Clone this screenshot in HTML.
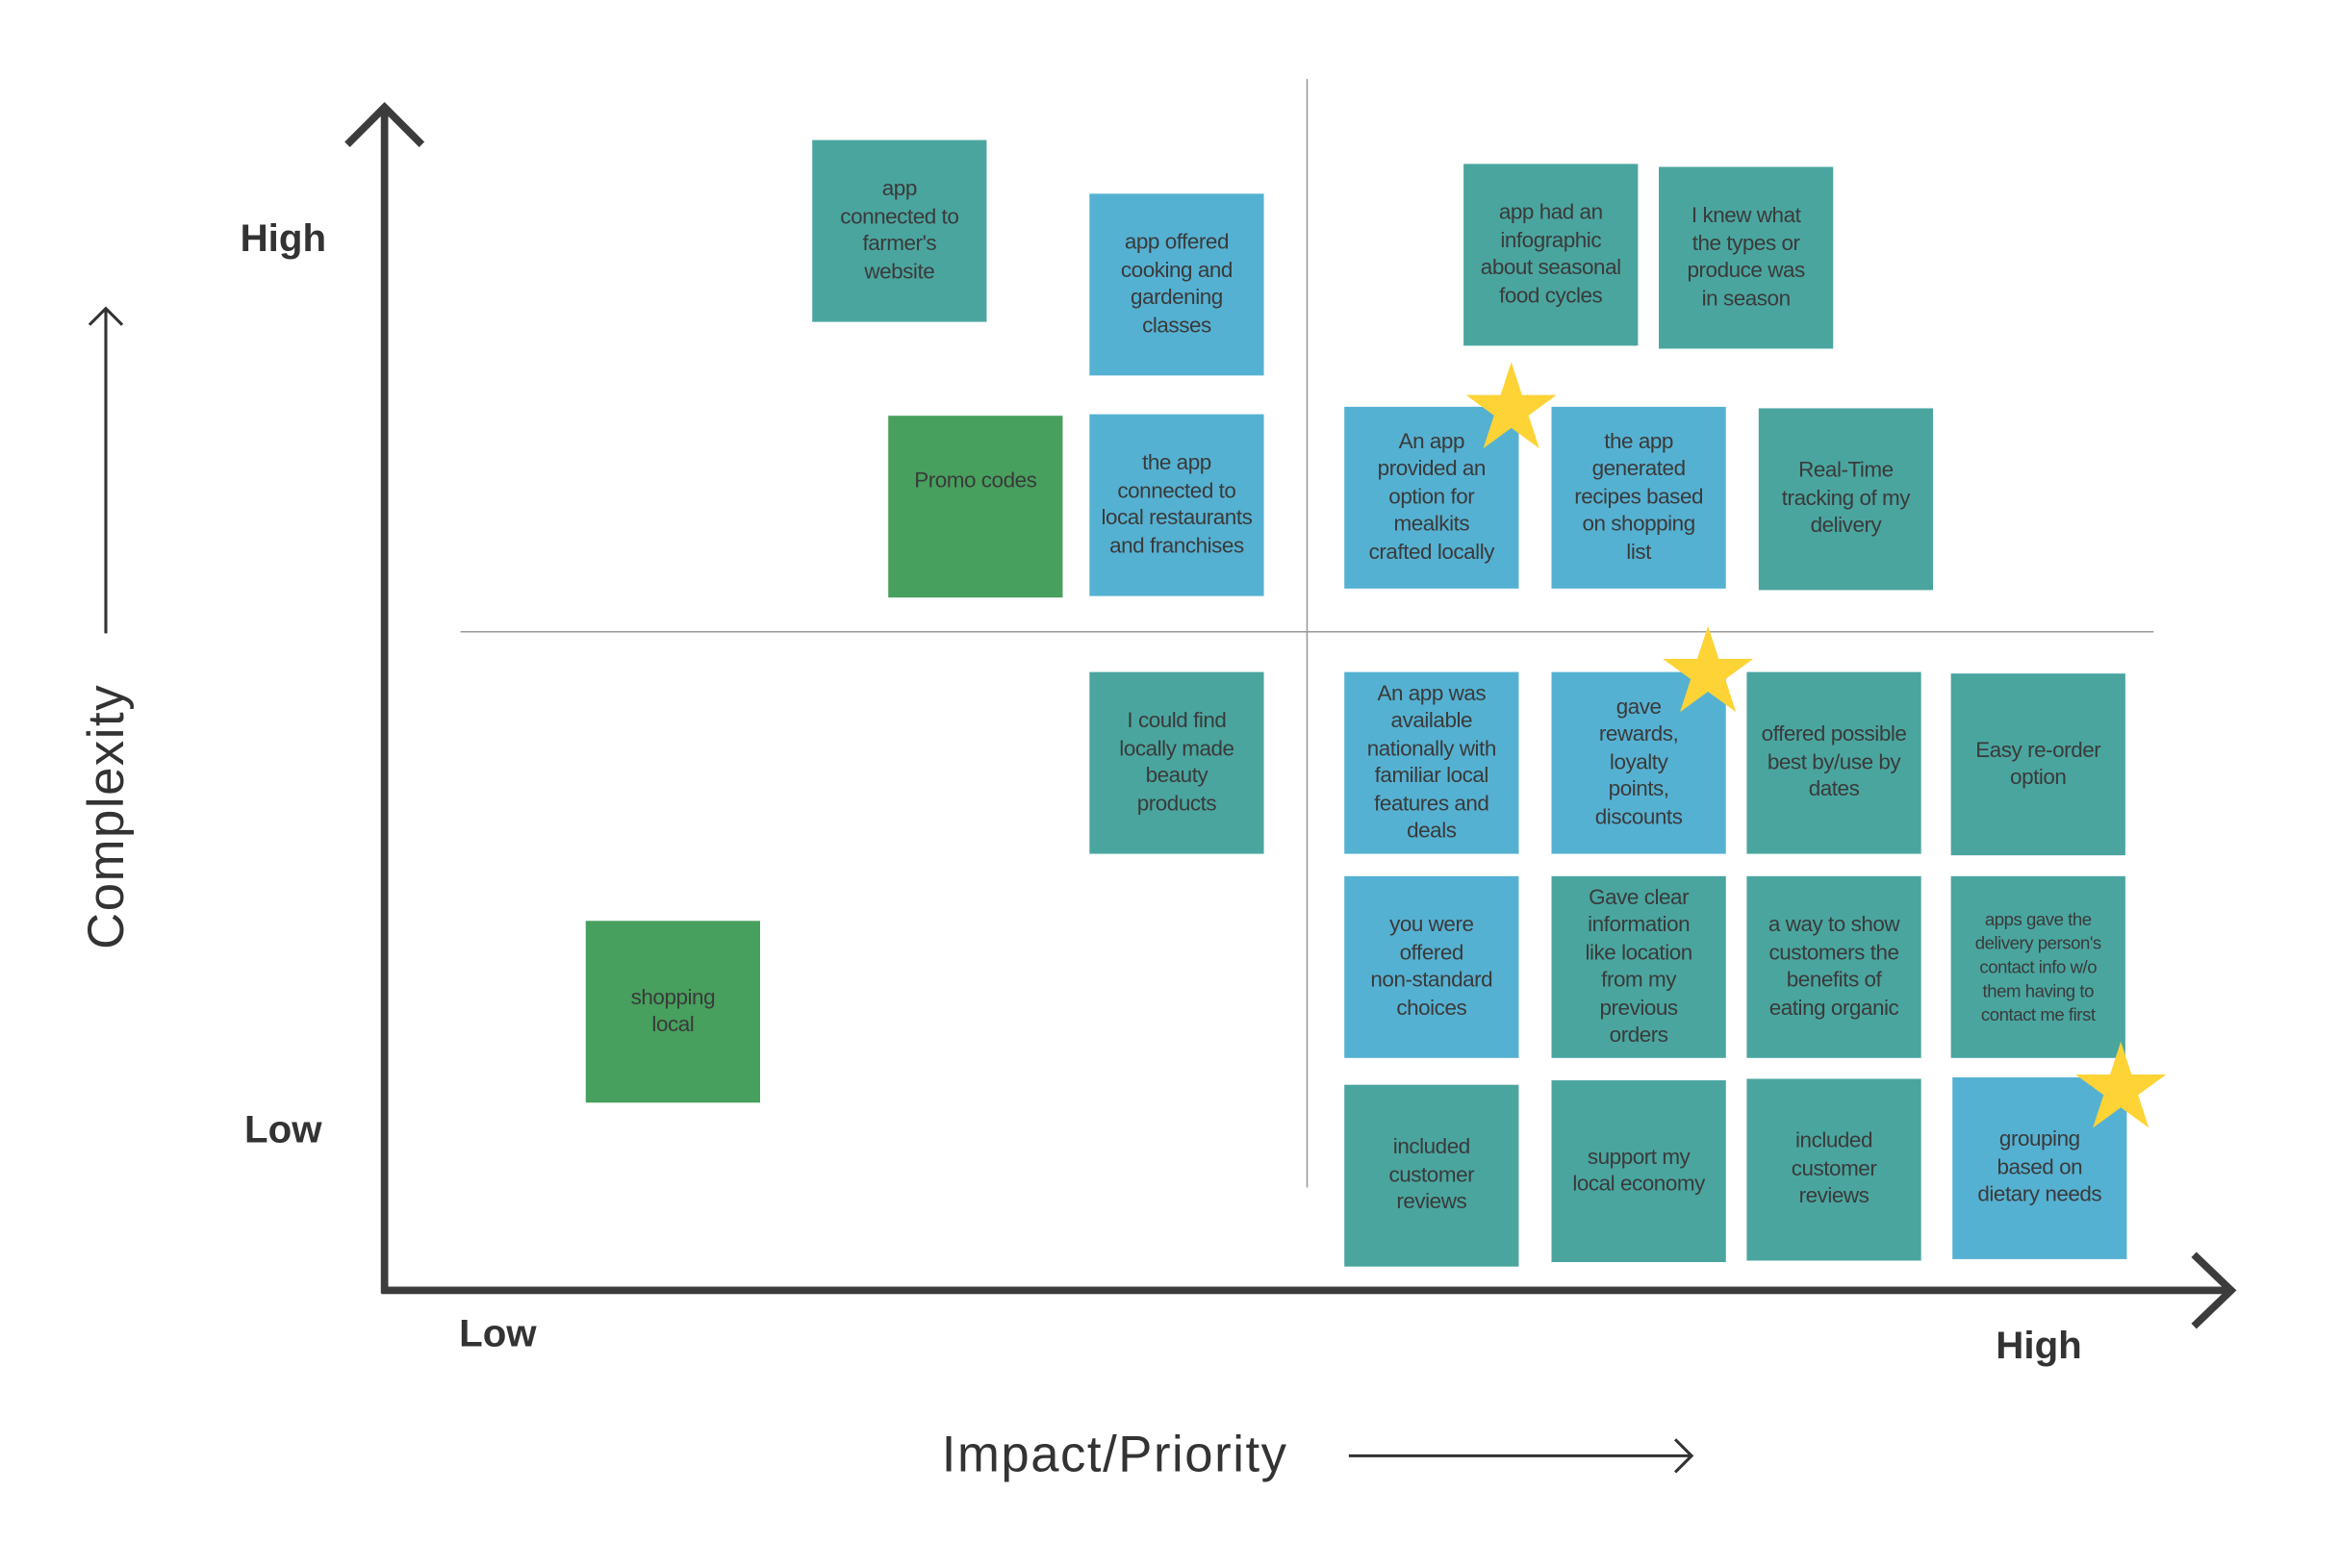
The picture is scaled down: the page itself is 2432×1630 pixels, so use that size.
<!DOCTYPE html>
<html><head><meta charset="utf-8"><style>
html,body{margin:0;padding:0;background:#fff;overflow:hidden}
body{width:2432px;height:1629px}
#w{position:absolute;left:0;top:0;width:1570px;height:1052px;transform:scale(1.549);transform-origin:0 0;font-family:"Liberation Sans",sans-serif}
.n{position:absolute;width:117px;height:122px;display:flex;align-items:center;justify-content:center;text-align:center;color:#3a3a3a;font-size:14.5px;line-height:18.5px;letter-spacing:-0.3px;box-sizing:border-box;padding:0 1px}
.t{background:#4aa59f}.b{background:#55b1d2}.g{background:#47a05d}
.s{font-size:12px;line-height:16px}
.l{position:absolute;font-weight:bold;color:#333;font-size:26px;transform:translate(-50%,-50%);white-space:nowrap}
svg{position:absolute;left:0;top:0}
</style></head><body><div id="w">
<svg width="1570" height="1052">
<line x1="877" y1="53" x2="877" y2="797" stroke="#999" stroke-width="1"/>
<line x1="309" y1="424" x2="1445" y2="424" stroke="#999" stroke-width="1"/>
<polyline points="233,97 258,72 283,97" fill="none" stroke="#3c3c3c" stroke-width="5"/>
<line x1="258" y1="72" x2="258" y2="868" stroke="#3c3c3c" stroke-width="5"/>
<line x1="256" y1="866" x2="1497" y2="866" stroke="#3c3c3c" stroke-width="5"/>
<polyline points="1472,842 1497,866 1472,890" fill="none" stroke="#3c3c3c" stroke-width="5"/>
<line x1="71" y1="425" x2="71" y2="207" stroke="#333" stroke-width="2"/>
<polyline points="60,218 71,207 82,218" fill="none" stroke="#333" stroke-width="2"/>
<line x1="905" y1="977" x2="1135" y2="977" stroke="#333" stroke-width="2"/>
<polyline points="1124,966 1135,977 1124,988" fill="none" stroke="#333" stroke-width="2"/>
</svg>
<div class="n t" style="left:545px;top:94px">app<br>connected to<br>farmer's<br>website</div>
<div class="n b" style="left:731px;top:130px">app offered<br>cooking and<br>gardening<br>classes</div>
<div class="n t" style="left:982px;top:110px">app had an<br>infographic<br>about seasonal<br>food cycles</div>
<div class="n t" style="left:1113px;top:112px">I knew what<br>the types or<br>produce was<br>in season</div>
<div class="n g" style="left:596px;top:279px;padding-bottom:34px">Promo codes</div>
<div class="n b" style="left:731px;top:278px">the app<br>connected to<br>local restaurants<br>and franchises</div>
<div class="n b" style="left:902px;top:273px">An app<br>provided an<br>option for<br>mealkits<br>crafted locally</div>
<div class="n b" style="left:1041px;top:273px">the app<br>generated<br>recipes based<br>on shopping<br>list</div>
<div class="n t" style="left:1180px;top:274px">Real-Time<br>tracking of my<br>delivery</div>
<div class="n t" style="left:731px;top:451px">I could find<br>locally made<br>beauty<br>products</div>
<div class="n b" style="left:902px;top:451px">An app was<br>available<br>nationally with<br>familiar local<br>features and<br>deals</div>
<div class="n b" style="left:1041px;top:451px">gave<br>rewards,<br>loyalty<br>points,<br>discounts</div>
<div class="n t" style="left:1172px;top:451px">offered possible<br>best by/use by<br>dates</div>
<div class="n t" style="left:1309px;top:452px">Easy re-order<br>option</div>
<div class="n b" style="left:902px;top:588px">you were<br>offered<br>non-standard<br>choices</div>
<div class="n t" style="left:1041px;top:588px">Gave clear<br>information<br>like location<br>from my<br>previous<br>orders</div>
<div class="n t" style="left:1172px;top:588px">a way to show<br>customers the<br>benefits of<br>eating organic</div>
<div class="n t s" style="left:1309px;top:588px">apps gave the<br>delivery person's<br>contact info w/o<br>them having to<br>contact me first</div>
<div class="n t" style="left:902px;top:728px">included<br>customer<br>reviews</div>
<div class="n t" style="left:1041px;top:725px">support my<br>local economy</div>
<div class="n t" style="left:1172px;top:724px">included<br>customer<br>reviews</div>
<div class="n b" style="left:1310px;top:723px">grouping<br>based on<br>dietary needs</div>
<div class="n g" style="left:393px;top:618px">shopping<br>local</div>
<svg width="1570" height="1052">
<g fill="#fdd335">
<polygon transform="translate(1014,275)" points="0,-32 7.2,-9.9 30.4,-9.9 11.6,3.8 18.8,25.9 0,12.2 -18.8,25.9 -11.6,3.8 -30.4,-9.9 -7.2,-9.9"/>
<polygon transform="translate(1146,452)" points="0,-32 7.2,-9.9 30.4,-9.9 11.6,3.8 18.8,25.9 0,12.2 -18.8,25.9 -11.6,3.8 -30.4,-9.9 -7.2,-9.9"/>
<polygon transform="translate(1423,731)" points="0,-32 7.2,-9.9 30.4,-9.9 11.6,3.8 18.8,25.9 0,12.2 -18.8,25.9 -11.6,3.8 -30.4,-9.9 -7.2,-9.9"/>
</g>
</svg>
<div class="l" style="left:190px;top:160px">High</div>
<div class="l" style="left:190px;top:758px">Low</div>
<div class="l" style="left:334px;top:895px">Low</div>
<div class="l" style="left:1368px;top:903px">High</div>
<div style="position:absolute;left:72px;top:548px;transform:translate(-50%,-50%) rotate(-90deg);font-size:34px;color:#333;white-space:nowrap;letter-spacing:1px">Complexity</div>
<div style="position:absolute;left:748px;top:977px;transform:translate(-50%,-50%);font-size:34px;color:#333;white-space:nowrap;letter-spacing:1px">Impact/Priority</div>
</div></body></html>
